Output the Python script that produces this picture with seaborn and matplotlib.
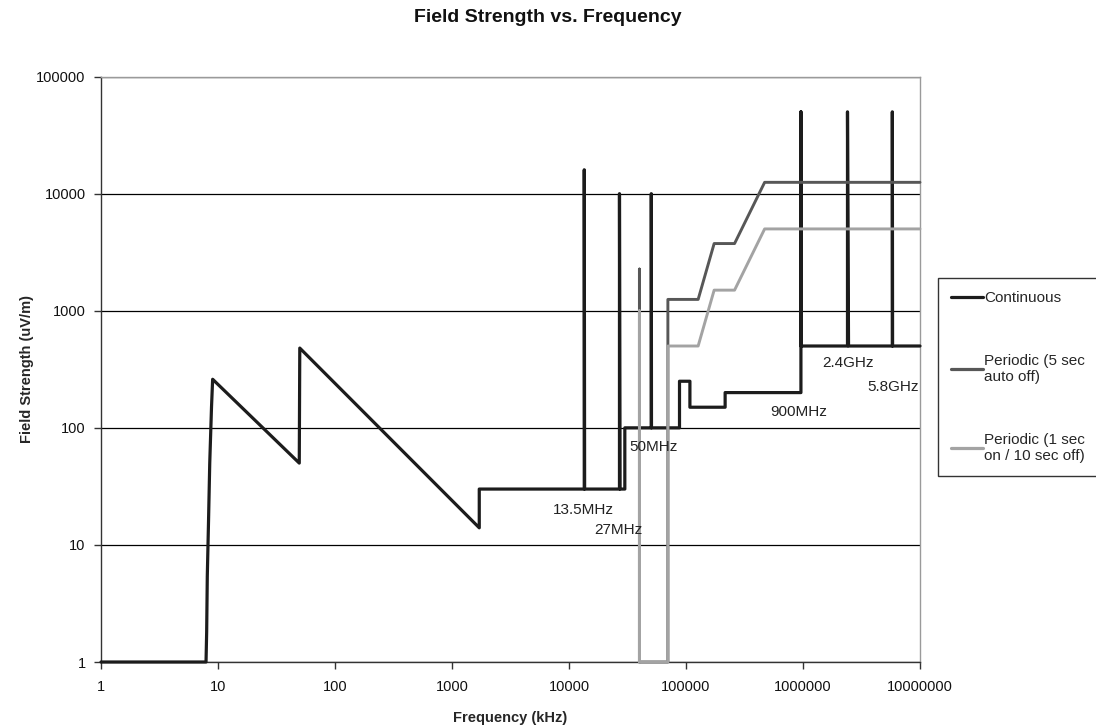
import numpy as np
import pandas as pd
import matplotlib
matplotlib.use("Agg")
import matplotlib.pyplot as plt
import seaborn as sns
from matplotlib.ticker import FixedLocator, FixedFormatter, NullLocator

# ---------------- data ----------------
cont_freq = [1, 7.9, 8.0, 8.1, 8.3, 8.5, 8.8, 9.0, 49.5, 50, 1710, 1710,
             13500, 13500, 13600, 27000, 27000, 27300, 30000, 30000,
             50500, 50500, 50700, 88000, 88000, 108000, 108000, 216000, 216000,
             960000, 960000, 960000, 2400000, 2400000, 2450000,
             5800000, 5800000, 5830000, 10000000]
cont_val = [1, 1, 1.8, 5.4, 16, 50, 150, 260, 50, 480, 14, 30,
            30, 16000, 30, 30, 10000, 30, 30, 100,
            100, 10000, 100, 100, 250, 250, 150, 150, 200,
            200, 50000, 500, 500, 50000, 500,
            500, 50000, 500, 500]

p5_freq = [40000, 40000, 40000, 70000, 70000, 127000, 174000, 260000, 470000, 10000000]
p5_val = [1, 2270, 1, 1, 1250, 1250, 3750, 3750, 12500, 12500]

p1_freq = [40000, 40000, 40000, 70000, 70000, 127000, 174000, 260000, 470000, 10000000]
p1_val = [1, 1000, 1, 1, 500, 500, 1500, 1500, 5000, 5000]

series_names = ["Continuous", "Periodic (5 sec\nauto off)", "Periodic (1 sec\non / 10 sec off)"]
series_colors = ["#1c1c1c", "#575757", "#a3a3a3"]

x_ticks = [1, 10, 100, 1000, 10000, 100000, 1000000, 10000000]
y_ticks = [1, 10, 100, 1000, 10000, 100000]

ann_labels = ["13.5MHz", "27MHz", "50MHz", "900MHz", "2.4GHz", "5.8GHz"]
ann_x = [13250, 26400, 52600, 912000, 2440000, 5910000]
ann_y = [20.0, 13.5, 69, 137, 360, 224]

# ---------------- style ----------------
sns.set_style("white")
plt.rcParams['font.family'] = ['Liberation Sans', 'DejaVu Sans']

W, H = 1096, 726
fig = plt.figure(figsize=(W / 100, H / 100), dpi=100)
L, R, T, B = 101, 920, 76.6, 662
ax = fig.add_axes([L / W, 1 - B / H, (R - L) / W, (B - T) / H])
ax.set(xscale='log', yscale='log')

series = [(cont_freq, cont_val), (p5_freq, p5_val), (p1_freq, p1_val)]
widths = [2.3, 2.1, 2.1]
for (f, v), name, col, lw in zip(series, series_names, series_colors, widths):
    df = pd.DataFrame({"f": f, "v": v})
    sns.lineplot(data=df, x="f", y="v", sort=False, estimator=None,
                 color=col, lw=lw, ax=ax, label=name, clip_on=False, zorder=3)

ax.set_xlim(1, 1e7)
ax.set_ylim(1, 1e5)

ax.xaxis.set_major_locator(FixedLocator(x_ticks))
ax.xaxis.set_major_formatter(FixedFormatter([str(t) for t in x_ticks]))
ax.yaxis.set_major_locator(FixedLocator(y_ticks))
ax.yaxis.set_major_formatter(FixedFormatter([str(t) for t in y_ticks]))
ax.xaxis.set_minor_locator(NullLocator())
ax.yaxis.set_minor_locator(NullLocator())

ax.tick_params(axis='both', which='major', direction='out', length=5, width=1,
               color='#333333', labelsize=10.5, labelcolor='#111111', pad=6,
               bottom=True, left=True)
ax.tick_params(axis='x', pad=8)

ax.yaxis.grid(True, color='black', lw=0.9)
ax.xaxis.grid(False)
ax.set_axisbelow(True)

for s in ['left', 'bottom']:
    ax.spines[s].set_color('#333333')
    ax.spines[s].set_linewidth(1.0)
for s in ['top', 'right']:
    ax.spines[s].set_color('#9a9a9a')
    ax.spines[s].set_linewidth(1.0)

ax.set_xlabel("Frequency (kHz)", fontsize=10.5, fontweight='bold', labelpad=12)
ax.set_ylabel("Field Strength (uV/m)", fontsize=10.5, fontweight='bold', labelpad=2)

fig.text(0.5, 1 - 17 / H, "Field Strength vs. Frequency", ha='center', va='center',
         fontsize=14, fontweight='bold', color='#111111')

for lab, x, y in zip(ann_labels, ann_x, ann_y):
    ax.text(x, y, lab, ha='center', va='center', fontsize=11, color='#222222', zorder=4)

leg = ax.legend(loc='upper left', bbox_to_anchor=(938 / W, 1 - 278 / H),
                bbox_transform=fig.transFigure, frameon=True, fancybox=False,
                edgecolor='black', fontsize=11, handlelength=2.1, handletextpad=0.05,
                labelspacing=3.2, borderpad=0.85, borderaxespad=0)
leg.get_frame().set_linewidth(1.0)
for line in leg.get_lines():
    line.set_linewidth(2.3)

fig.savefig("out.png", dpi=100)
